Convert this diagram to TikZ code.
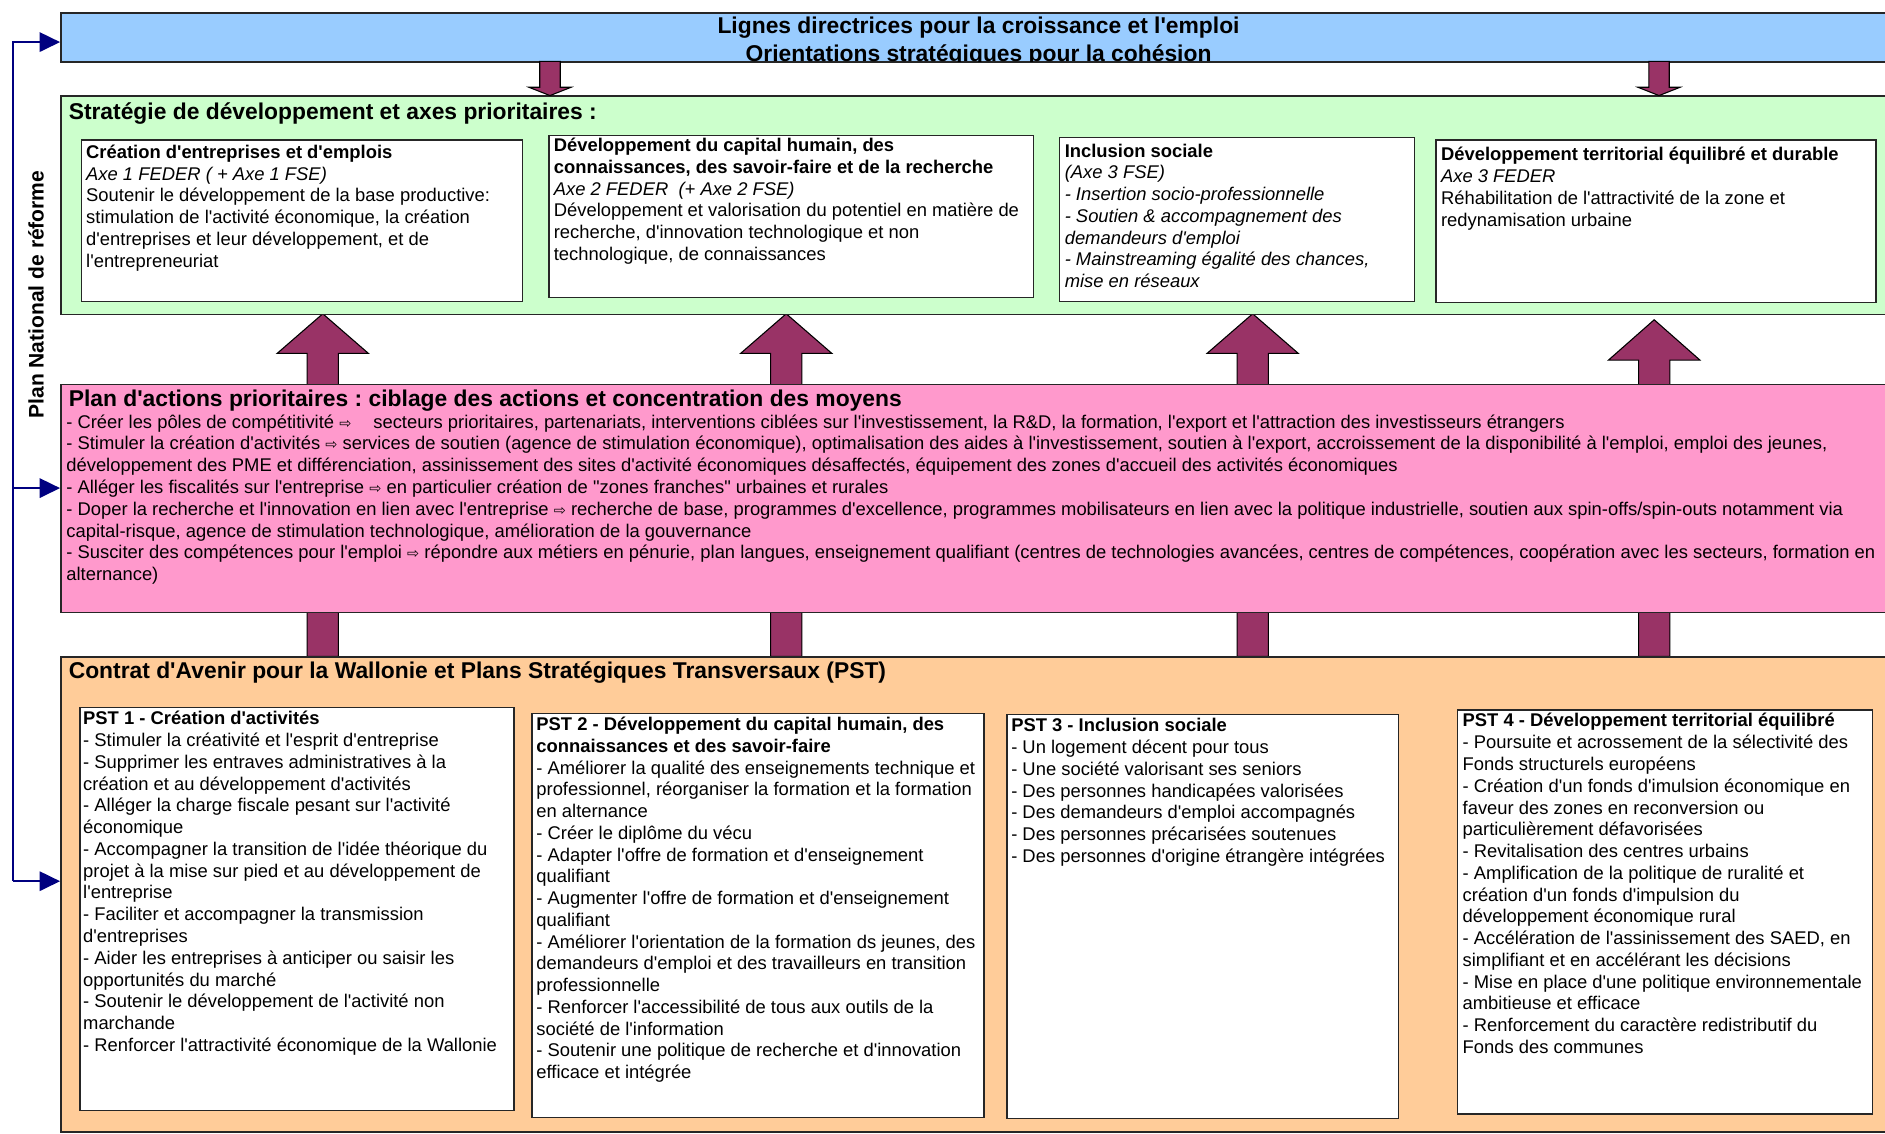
\documentclass[tikz,border=0pt]{standalone}
\usepackage{fontspec}
\newfontfamily\arialfont{Liberation Sans}
\newfontfamily\symfont{DejaVu Sans}
\usetikzlibrary{arrows.meta}

\definecolor{blueC}{HTML}{99CCFF}
\definecolor{greenC}{HTML}{CCFFCC}
\definecolor{pinkC}{HTML}{FF99CC}
\definecolor{orangeC}{HTML}{FFCC99}
\definecolor{plum}{HTML}{993366}
\definecolor{navyC}{HTML}{000080}

\newcommand\bodysize{\fontsize{15.3pt}{18.1pt}\selectfont}
\newcommand\headsize{\fontsize{19pt}{23pt}\selectfont\bfseries}
\newcommand\ra{{\symfont\fontsize{12pt}{18.1pt}\selectfont ⇨}}
\newcommand\fl[1]{\rule{0pt}{#1pt}}

% block arrows: centre x, start y, head-base y, tip y
\newcommand\upblock[4]{%
  \filldraw[plumarrow] (#1-13,#2) -- (#1-13,#3) -- (#1-38,#3) -- (#1,#4)
    -- (#1+38,#3) -- (#1+13,#3) -- (#1+13,#2) -- cycle;}
\newcommand\downblock[4]{%
  \filldraw[plumarrow] (#1-8.5,#2) -- (#1-8.5,#3) -- (#1-17.5,#3) -- (#1,#4)
    -- (#1+17.5,#3) -- (#1+8.5,#3) -- (#1+8.5,#2) -- cycle;}

\tikzset{
  section/.style={draw=black!85, line width=1.3pt, anchor=north west, inner sep=0pt},
  card/.style={draw=black!85, line width=1.1pt, fill=white, anchor=north west, inner sep=0pt},
  cardtext/.style={anchor=north west, inner sep=0pt, align=left, font=\bodysize, xshift=4.5pt},
  heading/.style={anchor=base west, inner sep=0pt, font=\headsize},
  plumarrow/.style={fill=plum, draw=black, line width=0.9pt, line join=miter},
  pnlink/.style={draw=navyC, line width=2pt, -{Triangle[length=17pt,width=16pt]}},
}

\begin{document}
\arialfont\frenchspacing
\begin{tikzpicture}[x=1pt,y=-1pt]
\useasboundingbox (0,0) rectangle (1568,943);
\clip (0,0) rectangle (1568,943);
\fill[white] (0,0) rectangle (1568,943);

% arrows rising from the PST block to the strategy block (behind the action plan)
\upblock{268.5}{546}{294}{261}
\upblock{654}{546}{294}{261}
\upblock{1042}{546}{294}{261}
\upblock{1376}{546}{299.5}{266}

% four horizontal bands
\node[section, fill=blueC, minimum width=1540pt, minimum height=41pt] (guide) at (50,10) {};
\node[section, fill=greenC, minimum width=1540pt, minimum height=182pt] (strategy) at (50,79) {};
\node[section, fill=pinkC, minimum width=1540pt, minimum height=190pt] (actions) at (50,319) {};
\node[section, fill=orangeC, minimum width=1540pt, minimum height=395pt] (contract) at (50,546) {};

% arrows from the guidelines down to the strategy
\downblock{457.5}{51}{72.6}{79.5}
\downblock{1380}{51}{72.6}{79.5}

% guidelines title (cut by the band's lower edge)
\begin{scope}
  \clip (50,10) rectangle (1590,51.5);
  \node[anchor=north, inner sep=0pt, align=center, font=\headsize] (guideTitle) at (814,11.5)
    {\fl{16.3}Lignes directrices pour la croissance et l'emploi\\Orientations stratégiques pour la cohésion};
\end{scope}

% national reform plan link
\coordinate (pnTop) at (11,35);
\coordinate (pnMid) at (11,406);
\coordinate (pnBot) at (11,733);
\draw[pnlink] (pnBot) -- (pnTop) -- (pnTop -| guide.west);
\draw[pnlink] (pnMid) -- (pnMid -| actions.west);
\draw[pnlink] (pnBot) -- (pnBot -| contract.west);
\node[rotate=90, inner sep=0pt, font=\fontsize{17.5pt}{20pt}\selectfont\bfseries] (pnLabel) at (30,245) {Plan National de réforme};

% strategy
\node[heading] (strategyTitle) at (57,99) {Stratégie de développement et axes prioritaires :};

\node[card, minimum width=367pt, minimum height=134pt] (g1) at (67,116) {};
\node[cardtext] (g1t) at (g1.north west) {\fl{15.5}\textbf{Création d'entreprises et d'emplois}\\
\textit{Axe 1 FEDER ( + Axe 1 FSE)}\\
Soutenir le développement de la base productive:\\
stimulation de l'activité économique, la création\\
d'entreprises et leur développement, et de\\
l'entrepreneuriat};

\node[card, minimum width=403pt, minimum height=135pt] (g2) at (456,112) {};
\node[cardtext] (g2t) at (g2.north west) {\fl{14}\textbf{Développement du capital humain, des}\\
\textbf{connaissances, des savoir-faire et de la recherche}\\
\textit{Axe 2 FEDER~~(+ Axe 2 FSE)}\\
Développement et valorisation du potentiel en matière de\\
recherche, d'innovation technologique et non\\
technologique, de connaissances};

\node[card, minimum width=295pt, minimum height=136pt] (g3) at (881,114) {};
\node[cardtext] (g3t) at (g3.north west) {\fl{16.5}\textbf{Inclusion sociale}\\
\textit{(Axe 3 FSE)}\\
\textit{- Insertion socio-professionnelle}\\
\textit{- Soutien \& accompagnement des}\\
\textit{demandeurs d'emploi}\\
\textit{- Mainstreaming égalité des chances,}\\
\textit{mise en réseaux}};

\node[card, minimum width=366pt, minimum height=135pt] (g4) at (1194,116) {};
\node[cardtext] (g4t) at (g4.north west) {\fl{17.5}\textbf{Développement territorial équilibré et durable}\\
\textit{Axe 3 FEDER}\\
Réhabilitation de l'attractivité de la zone et\\
redynamisation urbaine};

% action plan
\node[heading] (actionsTitle) at (57,338.5) {Plan d'actions prioritaires : ciblage des actions et concentration des moyens};
\node[anchor=north west, inner sep=0pt, align=left, font=\bodysize] (actionsText) at (55,342) {\fl{14}- Créer les pôles de compétitivité \ra\hspace{14pt} secteurs prioritaires, partenariats, interventions ciblées sur l'investissement, la R\&D, la formation, l'export et l'attraction des investisseurs étrangers\\
- Stimuler la création d'activités \ra{} services de soutien (agence de stimulation économique), optimalisation des aides à l'investissement, soutien à l'export, accroissement de la disponibilité à l'emploi, emploi des jeunes,\\
développement des PME et différenciation, assinissement des sites d'activité économiques désaffectés, équipement des zones d'accueil des activités économiques\\
- Alléger les fiscalités sur l'entreprise \ra{} en particulier création de "zones franches" urbaines et rurales\\
- Doper la recherche et l'innovation en lien avec l'entreprise \ra{} recherche de base, programmes d'excellence, programmes mobilisateurs en lien avec la politique industrielle, soutien aux spin-offs/spin-outs notamment via\\
capital-risque, agence de stimulation technologique, amélioration de la gouvernance\\
- Susciter des compétences pour l'emploi \ra{} répondre aux métiers en pénurie, plan langues, enseignement qualifiant (centres de technologies avancées, centres de compétences, coopération avec les secteurs, formation en\\
alternance)};

% future contract and transversal plans
\node[heading] (contractTitle) at (57,564.5) {Contrat d'Avenir pour la Wallonie et Plans Stratégiques Transversaux (PST)};

\node[card, minimum width=361pt, minimum height=335pt] (p1) at (66,588) {};
\node[cardtext, xshift=-1.5pt] (p1t) at (p1.north west) {\fl{14.8}\textbf{PST 1 - Création d'activités}\\
- Stimuler la créativité et l'esprit d'entreprise\\
- Supprimer les entraves administratives à la\\
création et au développement d'activités\\
- Alléger la charge fiscale pesant sur l'activité\\
économique\\
- Accompagner la transition de l'idée théorique du\\
projet à la mise sur pied et au développement de\\
l'entreprise\\
- Faciliter et accompagner la transmission\\
d'entreprises\\
- Aider les entreprises à anticiper ou saisir les\\
opportunités du marché\\
- Soutenir le développement de l'activité non\\
marchande\\
- Renforcer l'attractivité économique de la Wallonie};

\node[card, minimum width=376pt, minimum height=336pt] (p2) at (442,593) {};
\node[cardtext, xshift=-0.5pt] (p2t) at (p2.north west) {\fl{14.5}\textbf{PST 2 - Développement du capital humain, des}\\
\textbf{connaissances et des savoir-faire}\\
- Améliorer la qualité des enseignements technique et\\
professionnel, réorganiser la formation et la formation\\
en alternance\\
- Créer le diplôme du vécu\\
- Adapter l'offre de formation et d'enseignement\\
qualifiant\\
- Augmenter l'offre de formation et d'enseignement\\
qualifiant\\
- Améliorer l'orientation de la formation ds jeunes, des\\
demandeurs d'emploi et des travailleurs en transition\\
professionnelle\\
- Renforcer l'accessibilité de tous aux outils de la\\
société de l'information\\
- Soutenir une politique de recherche et d'innovation\\
efficace et intégrée};

\node[card, minimum width=326pt, minimum height=336pt] (p3) at (837,594) {};
\node[cardtext, xshift=-0.5pt] (p3t) at (p3.north west) {\fl{14.5}\textbf{PST 3 - Inclusion sociale}\\
- Un logement décent pour tous\\
- Une société valorisant ses seniors\\
- Des personnes handicapées valorisées\\
- Des demandeurs d'emploi accompagnés\\
- Des personnes précarisées soutenues\\
- Des personnes d'origine étrangère intégrées};

\node[card, minimum width=345pt, minimum height=336pt] (p4) at (1212,590) {};
\node[cardtext] (p4t) at (p4.north west) {\fl{14.5}\textbf{PST 4 - Développement territorial équilibré}\\
- Poursuite et acrossement de la sélectivité des\\
Fonds structurels européens\\
- Création d'un fonds d'imulsion économique en\\
faveur des zones en reconversion ou\\
particulièrement défavorisées\\
- Revitalisation des centres urbains\\
- Amplification de la politique de ruralité et\\
création d'un fonds d'impulsion du\\
développement économique rural\\
- Accélération de l'assinissement des SAED, en\\
simplifiant et en accélérant les décisions\\
- Mise en place d'une politique environnementale\\
ambitieuse et efficace\\
- Renforcement du caractère redistributif du\\
Fonds des communes};
\end{tikzpicture}
\end{document}
